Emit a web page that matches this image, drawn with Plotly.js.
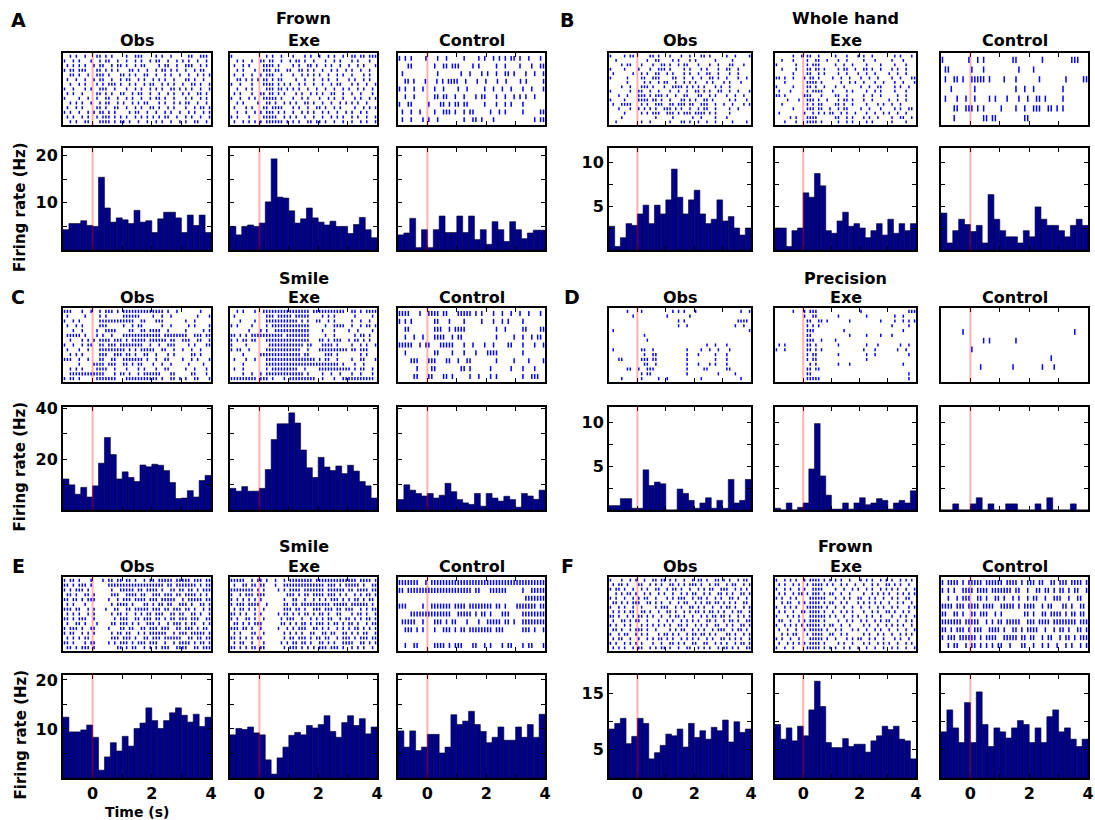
<!DOCTYPE html>
<html><head><meta charset="utf-8">
<script src="https://cdn.plot.ly/plotly-3.0.1.min.js"></script>
<style>body{margin:0;background:#fff}#chart{width:1095px;height:820px}</style>
</head><body><div id="chart"></div>
<script>
// ---------------- DATA ----------------
const conditions = ['Obs', 'Exe', 'Control'];
const panelLetters = ['A', 'B', 'C', 'D', 'E', 'F'];
const panelTitles = ['Frown', 'Whole hand', 'Smile', 'Precision', 'Smile', 'Frown'];
const timeWindow = [-1, 4];
const timeBins = [-0.9,-0.7,-0.5,-0.3,-0.1,0.1,0.3,0.5,0.7,0.9,1.1,1.3,1.5,1.7,1.9,2.1,2.3,2.5,2.7,2.9,3.1,3.3,3.5,3.7,3.9];
const binWidth = 0.2;
const xTickVals = [-1, 0, 1, 2, 3, 4];
const xTickText = ['', '0', '', '2', '', '4'];

const histA_Obs = [4.3,5.6,5.6,6.2,5.2,5.0,15.4,8.9,5.9,6.8,6.4,5.6,8.4,5.9,6.2,3.7,6.6,8.0,8.0,6.8,3.7,7.4,5.2,7.4,3.7];
const histA_Exe = [5.0,3.2,5.0,5.3,5.0,5.7,10.2,19.3,11.2,11.0,8.3,5.7,6.6,8.9,6.8,5.9,5.3,6.1,5.0,5.0,3.5,5.4,6.9,4.3,2.6];
const histA_Control = [3.2,3.6,6.7,0.5,4.3,0.5,4.3,7.2,3.7,3.7,7.2,3.7,7.2,2.2,4.3,1.2,6.0,4.3,1.8,6.0,4.3,2.4,3.6,4.2,4.2];
const histB_Obs = [2.7,0.4,1.4,3.0,2.8,4.1,5.1,3.0,5.1,4.1,5.7,9.2,6.0,4.1,5.7,6.8,4.1,3.0,3.5,5.7,3.3,3.8,2.5,1.7,2.5];
const histB_Exe = [2.5,2.5,0.4,2.2,2.5,6.5,6.0,8.7,7.3,2.2,1.9,3.3,4.3,2.7,3.0,2.5,1.4,2.2,3.0,1.7,3.5,1.9,3.0,2.2,3.0];
const histB_Control = [4.2,0.8,2.2,3.5,2.9,2.1,2.8,0.8,6.3,3.5,2.2,1.5,1.5,0.8,2.2,1.5,4.9,3.5,2.8,2.8,2.2,1.5,2.8,3.5,2.8];
const histC_Obs = [12.2,9.9,6.2,8.9,5.1,9.5,18.4,28.5,21.8,12.2,15.0,12.8,11.2,17.7,17.0,18.0,17.6,15.5,10.8,4.5,4.7,7.6,5.1,11.6,13.6];
const histC_Exe = [8.5,7.4,9.2,7.4,7.4,8.5,15.9,27.7,33.9,33.9,38.2,34.2,23.6,16.6,12.8,20.7,16.9,15.5,17.3,14.3,17.6,15.3,11.2,9.5,4.7];
const histC_Control = [4.1,9.9,7.8,6.5,5.5,6.5,4.7,5.8,10.5,7.2,4.1,2.8,2.2,6.5,1.5,6.5,4.7,3.5,5.4,4.1,1.1,6.5,5.5,4.2,7.8];
const histD_Obs = [0.5,0.5,1.3,1.3,0.2,0.2,4.6,2.8,3.2,3.0,0,0,2.4,1.9,1.1,0.2,0.8,1.4,0.2,1.1,0.2,3.5,0.8,1.1,3.5];
const histD_Exe = [0.2,0,0.8,0,0.3,0.8,4.7,9.9,3.9,1.7,0.1,0.1,0.8,0.1,0.8,1.4,0.6,0.8,1.3,1.1,0.1,0.8,1.1,0.8,2.2];
const histD_Control = [0,0,0.7,0,0,0.7,1.4,0,0.7,0,0,0.7,0.7,0,0,0,0.7,0,1.4,0,0,0,0.7,0,0];
const histE_Obs = [12.4,9.4,9.4,9.8,10.8,8.3,1.6,4.3,7.2,5.5,8.5,6.5,10.1,11.2,14.3,11.7,10.1,11.7,13.3,14.3,12.8,11.4,13.0,10.5,12.4];
const histE_Exe = [8.8,10.1,9.9,10.4,9.2,8.8,3.7,0.8,4.1,6.3,8.7,9.3,8.8,10.7,10.2,10.9,12.7,9.5,8.3,11.3,12.7,10.7,12.1,9.0,10.4];
const histE_Control = [9.6,6.3,9.6,5.6,6.3,8.9,8.9,5.1,6.3,12.9,10.9,11.6,13.6,10.9,9.5,7.2,8.3,10.4,7.7,7.7,10.4,8.3,10.9,8.3,13.0];
const histF_Obs = [8.7,9.7,10.6,6.1,7.4,10.6,9.7,3.4,4.5,5.8,7.8,7.5,8.7,5.5,9.7,7.2,8.4,6.9,9.0,8.4,10.3,6.4,10.0,8.1,8.7];
const histF_Exe = [9.5,6.9,8.9,6.6,9.2,7.5,12.1,17.2,12.7,6.3,5.4,5.4,7.0,5.6,6.0,6.0,4.6,6.6,7.5,9.2,8.6,9.2,6.9,6.6,3.4];
const histF_Control = [8.2,12.1,8.9,6.3,13.4,6.3,15.3,9.5,5.6,8.9,8.2,7.1,8.9,10.2,9.5,6.3,8.9,6.3,10.9,12.1,8.2,8.9,6.9,5.6,6.9];

// y-axis ticks per panel
const yRanges = [[0,21.6],[0,11.6],[0,40.5],[0,11.8],[0,21],[0,18.3]];
const yTickVals = [[5,10,15,20],[2.5,5,7.5,10],[10,20,30,40],[2.5,5,7.5,10],[5,10,15,20],[5,10,15]];
const yTickText = [['','10','','20'],['','5','','10'],['','20','','40'],['','5','','10'],['','10','','20'],['5','','15']];

// Spike rasters: one string per trial, '|' = spike in a time slot across the window
const rasterA_Obs = [
"..|.|..|.. .||.|.|... .|..|||... .|.|..|... ..||..|||.",
"|..|.|...| ..|.||..|. .|..|.|..| .||..|..|. |.|..|..|.",
".|.|.|.|.. |.||..|.|| .|..|.||.. ..|.||..|. .|||..|.|.",
"|.||.|||.. .||.|.|.|. ..||.|..|. .|.||.|.|. .|..|.||..",
"..||.|..|. .|||.|...| |.|.|..||. .|..|.|..| ..|..|.|.|",
".|..|..|.. |.||..|..| .||..|.|.. |.|.|..|.. .||.|..|..",
"..|..|.|.. .|.|.|||.| ..|.|..|.| |..|.|.|.. |..||.|..|",
"|..|...|.| ..|||..|.. .|..|.|..| .|.|..||.| .|.|..|..|",
".|.|..|... .||.|.|..| |..|.||..| ..|..|.|.. |.|..||.|.",
"|....|..|. .|..||..|. .|.|..|..| .||.|..|.. .|.|..|.|.",
"..|.|.|..| ..|.||..|. |..|.|.||. ..|.|..|.| .||..|..|.",
".|..|.|... .||.|..||. .|..|.|..| |.|..|.|.. .|..|.||.|",
"|.|..|..|. |.||.|.|.. ..|.||..|. .|..|.|..| ..|.|..|.|",
".|.|..|.|. .|.|||.|.| .|..|.|.|. |.|.||..|. .|.|..|..|",
"..|.|..||. ..||||.|.| |.|..|..|. .|.|..|..| .|..||..|."];
const rasterA_Exe = [
"|......... ..|.|..|.. .|...|.|.. |..|.|..|. .||.||.|||",
"..|.|..|.. ||.||..|.. |.||.|..|. ..|..|.|.. .|.|...|..",
".|..|.|... .||||.|... .|.|..||.| ..|.|..|.. |..|.|...|",
"..|.|...|. .|||.||..| |..||.|.|. .|..|.|..| .|..|..|..",
".|..|..|.. |.|||..|.. .|..|.|.|. |..|..|.|. .|...|.|..",
"..||.|.|.| .||.|.||.. ..|..|..|. .|.|..|... |.|..|.|..",
"|..|...|.. .||||.|.|. |..|.|..|. .|..|.||.. .|.|..|..|",
"..|..|.|.. ..|||.||.| .|.|..|..| ..|..|..|. |..|.|..|.",
".|.|...|.. ||.||.|.|. ..|.|..|.| .|..||..|. .|..|...|.",
"|..|..|.|. .|||||.|.. .|..|.|... |..|.|..|. ..|.|..|.|",
"..|.|....| ..||.|..|. |.|..||.|. .|..|..|.| .|.|..|...",
".|...|.|.. .||.||||.. .|.|..|..| |.|..|.|.. ..|..|.|.|",
"..|..|..|. |.|||.|.|. .|..|.|.|. .|.|..|..| .|..|.|...",
"|.|...|... .|||||..|. |.|..|..|. .|..|.|.|. .|.|..|..|",
".|..|.|.|. |.||||||.| .|.|..||.| |.|..|..|. .|..|.|..|"];
const rasterA_Control = [
"|.|.|....| ...|..|... ..|....|.| ..|.|.|.|| .|..|...|.",
"...||..... ..|..||.|| |....|.|.. ...|..|... .|...|..||",
".|........ ...|...... .|..|...|. |..|..||.| ...|..|..|",
"..||.|...| ...|.|.||| |..|...|.. |...|..|.. ..|.|.....|",
"|.|..|..|. ..|..|.... |..|.....| ..|..|..|. ..|..|...|",
"..|..|.... ..||.||..| ..|...|.|| ...|..|..| .|.|..|...",
"|..||..... |...||.|.| |.||.....| ...|..|.|. ..|.......",
".|..|..|.. ..|..|||.| ..|.||.... .|..|.|... ..|.....||",
".|..|...|. |..|...... ..|..||.|. ..|....... ......|.||"];
const rasterB_Obs = [
"|....|.||. ....||.|.. .|...|..|. ..||.|.... .|..|....|",
"..|....... ...|..||.. ..|.|...|. |......|.. ...|......",
"....|.||.. .|...|..|| .|..|.||.. .|...|..|. ..||...|..",
"|....|.... |...|..||| .|....|.|. ..|.|...|. .||..|....",
".|......|. .|.|..||.. |.|...|.|. .|..||..|. ..|..|....",
"|.....|... .||..|||.. ..||..|..| ..|..||.|. .|...|..|.",
"......|... ..|.|..|.| |..|..|.|. |...|.|... |.|...|...",
"....|..|.. .|||.|...| ..||||.|.| .|.|...|.| ..|.......",
"|......|.. ||..|..|.. .|..|..|.. ||.|.|..|| ..|..|...|",
"...|..|... |||.|.|||. |..|..||.. .||..|.|.. .|..|..|..",
"|....|.... ||||.||.|. .|...||.|. |..||.|... ..|.|...|.",
".|..||||.. .|.|..|||. .||.|||.|| ..|||..|.. |..|...|.|",
"...|...|.. |.|.|.|..| ||.|.|..|. .|.||..|.. ..|..|....",
".....|.... .|.|.|||.. |||.|.|||. ||||.|.|.. ..|.......",
"....|..... ......|... ..|......| ..|....|.. .|........",
"..|....... .|..|..... .|...||.|. .|..|..|.. ...|....|."];
const rasterB_Exe = [
"......|..| .||..|.... .|...|...| .|..|..... ..|.|...|.",
"..|...|... .|..||..|. ..|..|.... .|...|.... .|...|....",
"|......|.. .|.|||.... .|..|..|.. ..|....|.. ..|...|...",
"..|....|.. .||.||.|.. ..|.||..|. .||.|..|.. .|.|..|...",
"......|... .||..|.|.. ..|..|...| ..|..|.... |..|..|...",
"||.|..|... |.||.|.... |..|..|... |..|..|... .|..|...||",
"...|...... .||||.|... ...|..|.|. .|...|..|. ..|..|...|",
"|.....|... .||.|..|.. .|..|..... |..|..||.. ..|.|..|..",
".|...|.... .|.||||... |....|.|.. ..|..|.|.. ..|...|...",
"||.|...... |||...|... .||..|.... .|..|..|.. ...|..|...",
"....|...|. .|||.|..|. ..|.||.|.. .|..|..... |..|..|...",
"..|....... .|.|.||... .||.|..|.. ..|...|.|. .|..|.....",
"......|... .|||.||..| ..|.||.... |..|...|.. ..|.|..||.",
".|........ |..|.|.|.| |..|.|..|. ..|..|..|. |..|..|...",
".....|.|.. .||||..... .||..|.|.. .|.|..|... .|..||..|.",
"...|...|.. .||||.|... ..|..|.|.. ..|.|..... .|....|..."];
const rasterB_Control = [
"|........| ..|.|..... ....||.... ....|..... ....|||...",
".||....... |...|..... ......|... .|........ ..........",
".|..||.|.. |||||.|... .|...|.... ...|...... ..|.....||",
"...|...... .|........ .....|..|. .|........ .|........",
".|...|..|. .|....|.|. ..|...|..| ..||.|.... .|........",
"....||..|| |.|.|..... |....|..|. .|||..||.| .|........",
"....|..... ....||.||. ........|| .......... .........."];
const rasterC_Obs = [
"|||...|..| ..|.|||.|. |||||||||| ||||.|..|. ......|...",
".|.....|.. ..|.|..... ||||||.... |..|..|... .....|...|",
"|..|.|.... ..|||||||| ||||..||.. .|||...... .|..|.....",
".|..|.|... ..|||..... |..|.||... ...|..|... ..|.|....|",
"...|..|... .|..||||.. ..||..||.| |||..|.... .|.....|.|",
".|||||.|.. .|.|..|... |||||||||| |||.|||||| ||..|||.||",
"..|...|.|. |.||||.||| .|.|||||.| |||||.||.. |||..||..|",
"|..|..|.|| ..||.|||.| |||||||..| ..|..|||.. ..|.|...||",
".|...|..|. ..|||||||| |.|.|.|||| |..||..|.. |..|..|...",
"..|.|.|... ..|||..||| .||.|..||. .|...|.|.. ...||.|...",
"|||..|..|. ..||..||.. |||||||.|. .|..||.... |..|.|...|",
".....|.... ||||.|||.. ||.|.||... |..|..|... ..|....|..",
"..|.|.|... .||||..|.. .|...|.|.. .|..||.... .|..|...|.",
"..|||||||| ||||...|.| |.|..|.||| |||...||.. ...||...|.",
"|.||.|.... .|||||||.. .||||||||| ||.|..||.| .|..||...|"];
const rasterC_Exe = [
"..|.|...|. .||||||||| |||||||.|| |||||||||. .||.|.||||",
".|........ ..|||.|||| |.|||||... .|.|.|.... ..|.....|.",
"...|....|. ..|||||||| |||.|.|..| |..|.|.... .|..|..|..",
"|.|....|.. ..|.|||||| |||||||... ..|..||||. .|..|.||.|",
"......|... |.|..||||| |||||||... .|...|.... |..|....|.",
"||.|.|.||| ||||||||.| |||||||... ..|..|.... ..|.||.|..",
"|.|.||.||. ..|||||||| |||||||... ||.|.|||.. |.||.|.|..",
"|....|.... ...||||||| |||||.||.. .||||.|... .|..|.|..|",
"|.||..|... ..|||||||| ||||..|... |||||||||| .||.|||...",
"....|..... |||||||||| ||||.||... ..|||.|... ....|.|...",
".|...|..|. ..|||||||| |||||||||. |.||..|... .|..||...|",
"....|..... ..|||||||| |||||||||| |||||||.|. ..|..|....",
".|..|..... ..|.|||||| |||..|.... |||||||||| |.|.||..|.",
"....|..|.. |.|||||||| |||||.|... .|..|..|.. .|..|...|.",
"|||||||||. |||.|...|. |||||||||. .|...|..|| |||||||||."];
const rasterC_Control = [
"||||...|.. ||||.||... |||||.|.|. ..|..|..|. .|..|...|.",
"|.|.|..... ..||...|.. ..|.....|. ..|..|.|.. ..|.......",
"..||...... ..|||..|.| |||....... ...|..|... ..||....||",
"..|..|..|. ..||||..|. ||........ ...|.....| ..|..|.||.",
"|||||..|.| |...|||||. ..|..|...| ..|....||. ..|...|..|",
"..|....... ..||....|. ..|...|... ||||...... ..|.......",
"....|||... |||...||.. |..||..... ...|.....| ....|....|",
"......|... .||....... .||.|..... .|......|. ..|...|...",
".....||... ||...||.|. ....|..|.. .|.|...... ..|..|||.."];
const rasterD_Obs = [
"......|... .|........ ..|.|.|... |......... ......|..|",
"........|. .......... |.......|. .......... ..........",
".......... .......... ....|.|... .......... .....||||.",
".......... .......... ....|..|.. .......... ....|..|..",
".|........ .......... .......... .......... .........|",
".......... ..|....... .......... .......... ..........",
".......... ...|...... .......... .......... ..........",
".......... .......... .......... ....|..|.. .|........",
".|........ .||..|.... .......|.. ..|..|..|. ..|.......",
".......... ..|..||... .......|.. .|.....|.. .|........",
"...||..... .|||.||... .......|.. .......|.. .|........",
".......... ..||..|... .......|.. .|...|.|.. .|........",
"......||.. |..|||.... .......|.. ...||..... .||.......",
".......... .|.||..... .......|.. ........|. ....|.....",
"....|..... .|.....|.. |......... ..|....... ......|..."];
const rasterD_Exe = [
"......|... |.|||..... .......... |......... .......|||",
".......... |..||..... ..|....... ..|....... ..|..|....",
".......... .||..||.|. ......|... .......|.. ..|..|.|.|",
".......... .|.|.|.... .......... .......... .|.....|..",
".......... .|||...... ....|..... .......... .....|....",
".......... .||....... ......|... ..|....|.. .|........",
".......... .|||..|... .|........ .......... ..........",
".|.|...... .||.|..... ..|....... ..|...|... ....|..|..",
"|..|...... .||.|.|... .......... .|...|.... ...|..|...",
".......... .|.||..... ..|....... ..|..|.... .......|..",
".......... .|.||..... .......... ..|....... ..........",
".......... ..|.|..... ..|...|... .......... .....|....",
".......... .||.||.... .......... .......... ..........",
".......... .||....... .......... .......... .......|..",
".......... .|||||.... .......... .......... .......|.."];
const rasterD_Control = [
".......... .......... .......... .......... ..........",
".......... .......... .......... .......... ..........",
".......|.. .......... .......... .......... .....|....",
".......... ....|.|... .....|.... .......... ..........",
".......... |......... .......... .......... ..........",
".......... .......... .......... .......|.. ..........",
".......... ...|...... ....|..... ....|...|. ..........",
".......... .......... .......... .......... .........."];
const rasterE_Obs = [
"|.||.|...| ...|.||.|| .||.|..|.| |.|||||.|| |||.|||.||",
"||.|.|||.| .....||||| |||||||||| ||||.||.|| |||||.|.||",
"|.|.|||.|. ......|..| ||||.||.|| ||.|..||.| |.||.|.|||",
".||.|..||. |.....|||. .||||.||.. |||.|||.|| .||||.|.|.",
"||.||.|.|| |....|..|. |||.||||.| ||.|||||.. |.|||||.||",
".|.|...|.. ......|.|| ||.|...||. |.||.||..| ||.|..||.|",
"|||.||..|. |...|..||. .||.|||||. |||.||.||| .||.|..|.|",
".|.|.|..|. |.....|.|| .|..|.|.|| .|||..||.| |..||.|..|",
"||.|.|||.. |......|.| ||..||.||| .||.|.||.| ||.|||..||",
".|..||.|.. .|....||.| ||.|.|..|| |.|..|.||| .|.||..|.|",
"|.|||.|..| |....|...| |.||..||.| ||.|||..|| .|||.|.||.",
"|.||..|.|. |.....|.|| .||..|.|.| |||||..|.| ||.|||||.|",
".|.|.|.||. ......|||. |||.|..||. |||.|||||| ..||.||.||",
"||.|...|.| |....|.|.| ||.|.|||.| ||..|..|.| |||.|.||.|",
".||.|.|||. |.......|| .|.||..|.| .|.|||..|| ||..||.|||"];
const rasterE_Exe = [
"|||||..|.| |.|..|..|. ||||||||.| |||||||||| |||.||||.|",
".|..||.||. ||...|..|| |||||||||| ||.|||.|.| ||||.|..||",
"||||||||.| .|....|.|. ||||.||||| ||.||||||. ||.||||.||",
"|..|.|||.| ||.......| ||.|.||.|| ||.|||.|.| ..|.|.||.|",
"|.|.|.|.|. |.......|. .||..|..|. |.|.|||.|. |.||.|.||.",
"|.|||.|||| ..|.....|| .||.|||||| ||||.||||| .||||||.|.",
".|.||.|.|. .|......|| |.||.|..|| |.|||.||.| ||..|.|.||",
"||.|.|..|. |.....|.|| .|.|.||.|. ||.|..||.. .|.||.|..|",
"|.|..||.|. .|.....|.| ||..|..|.| .|.||..|.| |.|.|.||.|",
".||.|.|.|| |......||. |.|.||.|.| ||.|.||.|. ||.|..|.||",
"|||.||.|.. |.....|..| .|.|||..|| .|.|..|.|. |.||.|.|.|",
".|.|...||. .|......|. |.|.|..||. .||.||..|| .|.|.||..|",
"||.|.|.|.| |.......|. ||.|||.|.| |.||..|.|| |.|.|||.||",
".|.||..|.. .|.....|.| .||.||.|.. ||.|.|..|| ||..||.|.|",
"||.|.|.||. ||......|. |||.|.|.|. |||.|||.|. .|.|.|..|."];
const rasterE_Control = [
"|||||||..| .||||||||| |||||||||| |||||||||| ||||||||||",
"||.||||||| |||||||||| |||||.||.. .||||||... ..|..|||||",
".......... .......... .......... .......... ...|||||||",
"|||.....|. .|||||||.| |||.|||||| ||.||.|... |||||||.||",
"....|||||| ||||||||.. |||||.|.|| .|...|||.. ..||||||||",
".|||||..|. ..|||.|.|| ...|...|.. |||||.||.| ..||||||||",
"..|||.|.|. ..|..|||.| .||.|||||| ||.|||.... ..|||.|..|",
".......... .......... .......... .......... ..........",
"..|..||... ..||||.|.| ||...||..| .|...|.||. ..|.||...|"];
const rasterF_Obs = [
"|...|..|.| ..|..||.|| .|.|..|..| .||.|..||. |.|..|.||.",
".|.||.|... ||..|.|.|. .||.|.|.|| |.|..|.||. .|.||..|.|",
"|.||.|..|. .|.|..||.. |.||.|..|. .|.|.||..| ||..|.|.|.",
"..|.|.||.| ..|.|..|.| ..|..|.|.| |..|.|..|| .|.|..||.|",
"|.|..|..|. |.||..|... |.|.|||..| .||.|..|.| ..||.|..|.",
".||.|.|.|| |..||.|.|. .|..|.||.. |.|.||.||. |.|.|..||.",
"|..|.|..|. .|....|.|| |..|.|..|| .|.|..|..| .||.|..|.|",
".|.|.|.||. .||.|..|.. ||.|..|.|. ||.|.||.|. |..|.||..|",
"||.|..|.|. ||.|.|..|. .|.||.|..| ..|.|.||.| |.|..|.|.|",
".|..||.|.| |..|...|.. |.|..|.|.| .|..||.|.. |.||.|..||",
"|.|..|.|.. .|.|.|.|.| .|..||.|.. |.|.|..||. .|.|..||.|",
".||.|..|.| ||.|..|... .|.|.||..| .|.|..|.|| |..|.||.|.",
"|..|.||..| .|.|...|.| |.|.|..|.| |.||.|.|.. .||.|..|.|",
".|.||..|.. |..|.|.||. |.|..|.|.| .|..|.|..| |.|.|.|..|",
"|.|..|.|.| .|...|..|. .||.|.|..| |..||..|.| .|..|.||.|",
".|.|.|..|. ||..|.|.|| .|..|..||. .|.|.|..|. ||.|.|..||"];
const rasterF_Exe = [
"|..|.|.|.. |.||||.|.| .|.|..|... |.|.|..|.| .|..|.|.|.",
".|.|..|.|. .|.||||.|. |..|.|..|. .|..|.|..| |.|.|..|..",
"|..|.|..|. |..||||... .|..|..|.| ..|.|..|.| .|.|..|..|",
".|.|..|.|| .|.|||.|.| |..|..|... .|..|.|.|. |..|.|.|.|",
"|.|..|.|.. ..||||||.. .|..|.|..| |..|.|..|. .|.|..||..",
"..|.||..|. |.||||.|.| |..|.|...| .|.|.|.|.. |..|.|..|.",
"|..|.|.|.. .||||||.|. .|..|..|.. |..|..|.|. .|.|...|.|",
".|.|..|..| |.||||.|.. |..|.|.|.. .|..|.|..| |.|..|.|..",
"|...|.|.|. ..||||||.| .|..|..|.| ..|.|..|.. .|..|.|..|",
".||..|..|. |.||||.|.. ..|..|.|.. |.|..|.|.| |..|..|.|.",
"|..|.|.|.| .|||||.|.| |..|..|... .|.|..|..| .|.|.|..|.",
".|..|..|.. |.|||||.|. .|.|...|.| ..|..|.|.. |..|..|..|",
"..|.|.||.. .|.||||..| |..|.|.... .|.|..|.|. .|..|.|.|.",
"|.|..|..|. ..|||||.|. .|...|.|.| |..|.|..|. ..|.|..|..",
".|..|.|.|. |.||||.|.. ..|.|..|.. .|.|..|.|. |..|..|.|.",
"|..|..|... .|||||.|.| .|..|.|..| ..|..|..|. .|.|..|..|"];
const rasterF_Control = [
"|.||||.|.| ||||.||||| |.||||.|.| ||.||..||. |||.||||.|",
"|.|.|..||| |.||||.||| ||||.||..| ..||.||.|. ||.|.||..|",
"..|..|.||| ..||.|..|| .|..|.|..| .||..|..|| |..|..||..",
"||||.|||.| |||.||||.. |||||.|.|| ||..|.||.. .||.|..||.",
"||..||.|.. ||.|||..|. |.......|| .|..||.||| |.|.||.||.",
"|||||||.|| |||..|.|.| |.|||||..| ||.||||.|| ||||||.|||",
"||.|.|||.| .|||..|||| .|..||.|.| |||..|..|. ||.|..||.|",
"|.|||.|||| ||.|.||||. .|||||.||. ||..|.||.. |.||.|.|||",
"..|.||..|. ||.|.|.|.| |..|...||. .|..|.|..| ..|.|..|.|"];

const histData = [
  [histA_Obs, histA_Exe, histA_Control],
  [histB_Obs, histB_Exe, histB_Control],
  [histC_Obs, histC_Exe, histC_Control],
  [histD_Obs, histD_Exe, histD_Control],
  [histE_Obs, histE_Exe, histE_Control],
  [histF_Obs, histF_Exe, histF_Control]];
const rasterData = [
  [rasterA_Obs, rasterA_Exe, rasterA_Control],
  [rasterB_Obs, rasterB_Exe, rasterB_Control],
  [rasterC_Obs, rasterC_Exe, rasterC_Control],
  [rasterD_Obs, rasterD_Exe, rasterD_Control],
  [rasterE_Obs, rasterE_Exe, rasterE_Control],
  [rasterF_Obs, rasterF_Exe, rasterF_Control]];

// ---------------- LAYOUT GEOMETRY (pixels) ----------------
const W = 1095, H = 820;
const colBoxes = [
  [[63,211],[230,377],[398,545]],
  [[609,751],[775,916],[941,1088]]];
const rasterRows = [[53,125],[308,382],[577,651]];
const histRows = [[148,250],[407,510],[675,778]];
const titleY = [18, 278, 546];
const condY = [40, 297, 566];
const letterPos = [[18,20],[567,20],[18,297],[572,297],[18,566],[567,566]];

const fx = px => px / W;
const fy = py => 1 - py / H;

function rasterXY(rows) {
  const xs = [], ys = [];
  rows.forEach((row, r) => {
    const s = row.replace(/\s+/g, '');
    const n = s.length;
    for (let i = 0; i < n; i++) {
      if (s[i] === '|') {
        xs.push(timeWindow[0] + (i + 0.5) * (timeWindow[1] - timeWindow[0]) / n);
        ys.push(r + 1);
      }
    }
  });
  return {x: xs, y: ys};
}

const boldFont = {family: 'DejaVu Sans, Verdana, sans-serif', size: 16, color: 'black', weight: 'bold'};
const axisBase = {
  showline: true, linecolor: 'black', linewidth: 2, mirror: 'ticks',
  ticks: 'inside', ticklen: 4, tickwidth: 1, tickcolor: 'black',
  showgrid: false, zeroline: false, fixedrange: true,
  tickfont: boldFont
};

const traces = [];
const layout = {
  width: W, height: H,
  margin: {l: 0, r: 0, t: 0, b: 0},
  paper_bgcolor: 'white', plot_bgcolor: 'white',
  showlegend: false, barmode: 'overlay', bargap: 0,
  annotations: [], shapes: []
};

let ax = 0;
for (let p = 0; p < 6; p++) {
  const side = p % 2, row = Math.floor(p / 2);
  for (let c = 0; c < 3; c++) {
    const [x0, x1] = colBoxes[side][c];
    for (let k = 0; k < 2; k++) {
      ax++;
      const xn = ax === 1 ? 'xaxis' : 'xaxis' + ax;
      const yn = ax === 1 ? 'yaxis' : 'yaxis' + ax;
      const xr = ax === 1 ? 'x' : 'x' + ax;
      const yr = ax === 1 ? 'y' : 'y' + ax;
      const [y0, y1] = k === 0 ? rasterRows[row] : histRows[row];
      const xa = Object.assign({}, axisBase, {
        domain: [fx(x0), fx(x1)], anchor: yr, range: timeWindow.slice(),
        tickvals: xTickVals,
        ticktext: xTickText.map(t => t ? '<b>' + t + '</b>' : ''),
        showticklabels: (k === 1 && row === 2)
      });
      let ya;
      if (k === 0) {
        const rows = rasterData[p][c];
        const n = rows.length;
        const xy = rasterXY(rows);
        const pitch = (y1 - y0) / (n + 0.4);
        const msize = 0.46 * pitch;
        traces.push({
          type: 'scatter', mode: 'markers', x: xy.x, y: xy.y, xaxis: xr, yaxis: yr,
          marker: {symbol: 'line-ns', size: msize, color: '#0000ff', line: {color: '#0000ff', width: 1.5}},
          hoverinfo: 'skip'
        });
        ya = Object.assign({}, axisBase, {
          domain: [fy(y1), fy(y0)], anchor: xr, range: [n + 0.7, 0.3],
          ticks: '', showticklabels: false
        });
      } else {
        traces.push({
          type: 'bar', x: timeBins, y: histData[p][c], width: binWidth,
          xaxis: xr, yaxis: yr,
          marker: {color: '#00008b', line: {color: '#00002a', width: 0.6}},
          hoverinfo: 'skip'
        });
        ya = Object.assign({}, axisBase, {
          domain: [fy(y1), fy(y0)], anchor: xr, range: yRanges[p],
          tickvals: yTickVals[p],
          ticktext: yTickText[p].map(t => t ? '<b>' + t + '</b>' : ''),
          showticklabels: c === 0
        });
      }
      layout[xn] = xa;
      layout[yn] = ya;
      layout.shapes.push({
        type: 'line', xref: xr, yref: yr + ' domain', x0: 0, x1: 0, y0: 0, y1: 1,
        line: {color: 'rgba(255,0,0,0.3)', width: 2}, layer: 'above'
      });
    }
    layout.annotations.push({
      text: '<b>' + conditions[c] + '</b>', xref: 'paper', yref: 'paper',
      x: fx((x0 + x1) / 2), y: fy(condY[row]), xanchor: 'center', yanchor: 'middle',
      showarrow: false, font: boldFont
    });
  }
  const ex = colBoxes[side][1];
  layout.annotations.push({
    text: '<b>' + panelTitles[p] + '</b>', xref: 'paper', yref: 'paper',
    x: fx((ex[0] + ex[1]) / 2), y: fy(titleY[row]), xanchor: 'center', yanchor: 'middle',
    showarrow: false, font: boldFont
  });
  layout.annotations.push({
    text: '<b>' + panelLetters[p] + '</b>', xref: 'paper', yref: 'paper',
    x: fx(letterPos[p][0]), y: fy(letterPos[p][1]), xanchor: 'center', yanchor: 'middle',
    showarrow: false, font: Object.assign({}, boldFont, {size: 19})
  });
}
for (let row = 0; row < 3; row++) {
  const hc = (histRows[row][0] + histRows[row][1]) / 2 + 8;
  layout.annotations.push({
    text: '<b>Firing rate (Hz)</b>', xref: 'paper', yref: 'paper',
    x: fx(20), y: fy(hc), xanchor: 'center', yanchor: 'middle', textangle: -90,
    showarrow: false, font: Object.assign({}, boldFont, {size: 15})
  });
}
layout.annotations.push({
  text: '<b>Time (s)</b>', xref: 'paper', yref: 'paper',
  x: fx(137), y: fy(812), xanchor: 'center', yanchor: 'middle',
  showarrow: false, font: Object.assign({}, boldFont, {size: 14})
});

Plotly.newPlot('chart', traces, layout, {staticPlot: true, displayModeBar: false});
</script>
</body></html>
